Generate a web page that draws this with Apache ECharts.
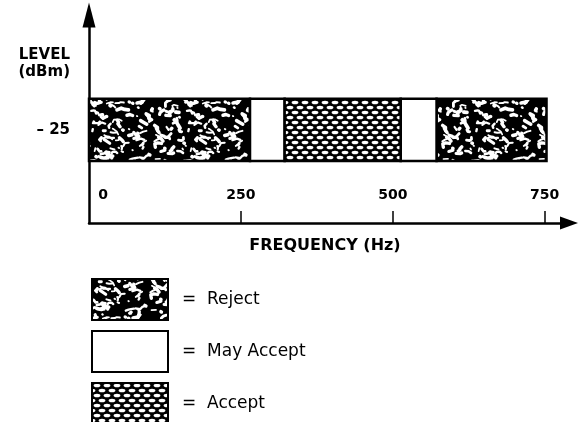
<!DOCTYPE html>
<html>
<head>
<meta charset="UTF-8">
<title>Level vs frequency</title>
<script src="https://cdn.jsdelivr.net/npm/echarts@6/dist/echarts.min.js"></script>
<style>
  html, body { margin: 0; padding: 0; background: #fff; }
  #chart { width: 582px; height: 422px; }
</style>
</head>
<body>
<div id="chart"></div>
<script>
// bands along the frequency axis (Hz) and what each one means
const bandStart = [0, 265, 322, 513, 572];
const bandEnd = [265, 322, 513, 572, 753];
const bandType = ['Reject', 'May Accept', 'Accept', 'May Accept', 'Reject'];
const bandLevel = [-30, -20]; // dBm, band is drawn round -25
const typeNames = ['Reject', 'May Accept', 'Accept'];
const xTickValues = [0, 250, 500, 750];
const xTickMarks = [250, 500, 750];
const yTickValues = [-25];

// speckled black fill for "Reject"
function rejectTexture() {
  const w = 96, h = 64;
  const c = document.createElement('canvas');
  c.width = w; c.height = h;
  const g = c.getContext('2d');
  g.fillStyle = '#000';
  g.fillRect(0, 0, w, h);
  let s = 11;
  const rnd = () => { s = (s * 16807) % 2147483647; return s / 2147483647; };
  g.strokeStyle = '#fff';
  g.lineCap = 'round';
  g.lineJoin = 'round';
  for (let i = 0; i < 120; i++) {
    let x = rnd() * w, y = rnd() * h, a = rnd() * Math.PI * 2;
    const pts = [[x, y]];
    const n = Math.floor(rnd() * 4);
    for (let k = 0; k < n; k++) {
      a += (rnd() - 0.5) * 2.6;
      const len = 1.5 + rnd() * 3.5;
      x += Math.cos(a) * len;
      y += Math.sin(a) * len * 0.7;
      pts.push([x, y]);
    }
    if (pts.length === 1) pts.push([x + 0.5, y + 0.3]);
    const lw = 1.6 + rnd() * 2.2;
    for (const dx of [-w, 0, w]) {
      for (const dy of [-h, 0, h]) {
        g.lineWidth = lw;
        g.beginPath();
        pts.forEach((p, j) => j ? g.lineTo(p[0] + dx, p[1] + dy) : g.moveTo(p[0] + dx, p[1] + dy));
        g.stroke();
      }
    }
  }
  return c;
}

// chain-link fill for "Accept"
function acceptTexture() {
  const c = document.createElement('canvas');
  c.width = 10; c.height = 10;
  const g = c.getContext('2d');
  g.fillStyle = '#000';
  g.fillRect(0, 0, 10, 10);
  g.fillStyle = '#fff';
  [[5, 2.5], [0, 7.5], [10, 7.5]].forEach(p => {
    g.beginPath();
    g.ellipse(p[0], p[1], 3.4, 1.8, 0, 0, Math.PI * 2);
    g.fill();
  });
  return c;
}

const fills = {
  'Reject': { image: rejectTexture(), repeat: 'repeat' },
  'May Accept': '#fff',
  'Accept': { image: acceptTexture(), repeat: 'repeat' }
};

const chart = echarts.init(document.getElementById('chart'));

const series = typeNames.map(name => ({
  name: name,
  type: 'custom',
  itemStyle: { color: fills[name], borderColor: '#000', borderWidth: 2.5 },
  encode: { x: [0, 1], y: [2, 3] },
  data: bandType.map((t, i) => t === name ? [bandStart[i], bandEnd[i], bandLevel[0], bandLevel[1]] : null)
    .filter(d => d),
  renderItem: function (params, api) {
    const p0 = api.coord([api.value(0), api.value(3)]);
    const p1 = api.coord([api.value(1), api.value(2)]);
    return {
      type: 'rect',
      shape: { x: p0[0], y: p0[1], width: p1[0] - p0[0], height: p1[1] - p0[1] },
      style: api.style({ stroke: '#000', lineWidth: 2.5 })
    };
  }
}));

chart.setOption({
  animation: false,
  backgroundColor: '#fff',
  grid: { left: 89, right: 13, top: 18, bottom: 199 },
  xAxis: {
    type: 'value',
    min: 0,
    max: 790,
    interval: 250,
    name: 'FREQUENCY (Hz)',
    nameLocation: 'middle',
    nameGap: 15,
    nameTextStyle: { fontFamily: 'DejaVu Sans', fontWeight: 'bold', fontSize: 16, color: '#000', padding: [0, 8, 0, 0] },
    axisLine: { lineStyle: { color: '#000', width: 2.5 }, symbol: ['none', 'triangle'], symbolSize: [13, 18] },
    axisTick: { inside: true, length: 12, lineStyle: { color: '#000', width: 1.5 }, customValues: xTickMarks },
    axisLabel: {
      inside: true,
      margin: 21,
      customValues: xTickValues,
      fontFamily: 'DejaVu Sans',
      fontWeight: 'bold',
      fontSize: 14,
      color: '#000',
      formatter: v => v === 0 ? '{z|0}' : String(v),
      rich: { z: { fontFamily: 'DejaVu Sans', fontWeight: 'bold', fontSize: 14, color: '#000', padding: [0, 0, 0, 28] } }
    },
    splitLine: { show: false }
  },
  yAxis: {
    type: 'value',
    min: -40,
    max: -7,
    name: 'LEVEL\n(dBm)',
    nameLocation: 'end',
    nameGap: -29,
    nameTextStyle: {
      fontFamily: 'DejaVu Sans', fontWeight: 'bold', fontSize: 15, color: '#000',
      align: 'right', verticalAlign: 'top', lineHeight: 17, padding: [0, 19, 0, 0]
    },
    axisLine: { show: true, lineStyle: { color: '#000', width: 2.5 }, symbol: ['none', 'triangle'], symbolSize: [13, 25], symbolOffset: [0, 3] },
    axisTick: { show: false },
    axisLabel: {
      customValues: yTickValues,
      margin: 19,
      fontFamily: 'DejaVu Sans',
      fontWeight: 'bold',
      fontSize: 15,
      color: '#000',
      formatter: v => '\u2013 ' + Math.abs(v)
    },
    splitLine: { show: false }
  },
  legend: {
    orient: 'vertical',
    left: 91,
    top: 278,
    padding: 0,
    height: 150,
    icon: 'rect',
    itemWidth: 76,
    itemHeight: 41,
    itemGap: 9,
    formatter: '=  {name}',
    textStyle: { fontFamily: 'DejaVu Sans', fontSize: 17, color: '#000', padding: [0, 0, 0, 9] },
    data: typeNames
  },
  series: series
});
</script>
</body>
</html>
